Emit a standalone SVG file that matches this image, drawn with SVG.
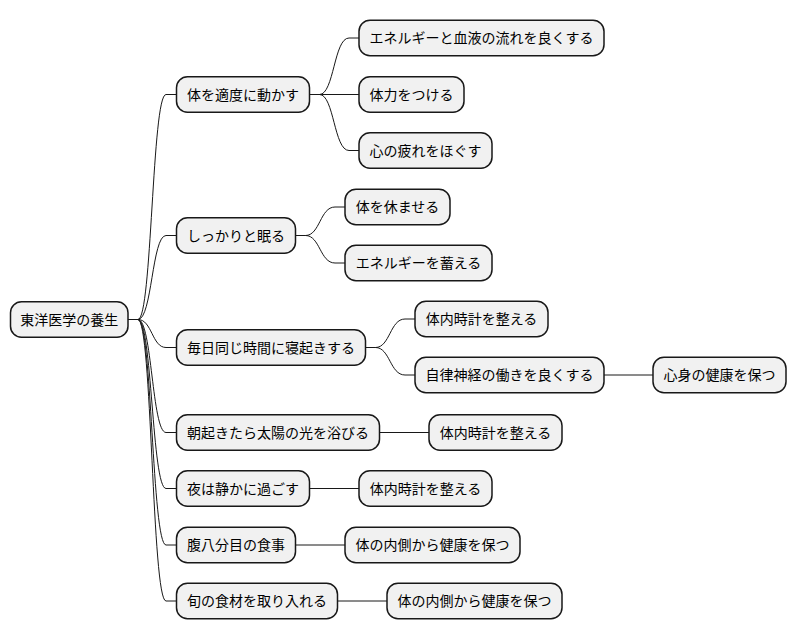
<svg xmlns="http://www.w3.org/2000/svg" width="796" height="640" viewBox="0 0 796 640">
<style>
.n rect{fill:#F1F1F1;stroke:#181818;stroke-width:1.5}
.n text{font-family:"Noto Sans CJK JP","Noto Sans",sans-serif;font-size:14px;fill:#000000;text-anchor:middle}
.c path{fill:none;stroke:#181818;stroke-width:1}
</style>
<rect width="796" height="640" fill="#FFFFFF"/>
<g class="c" id="connectors">
<path d="M128,319.5 L138,319.5 C152,319.5 152,94.5 166,94.5 L176.5,94.5"/>
<path d="M128,319.5 L138,319.5 C152,319.5 152,235.5 166,235.5 L176.5,235.5"/>
<path d="M128,319.5 L138,319.5 C152,319.5 152,347.5 166,347.5 L176.5,347.5"/>
<path d="M128,319.5 L138,319.5 C152,319.5 152,432.5 166,432.5 L176.5,432.5"/>
<path d="M128,319.5 L138,319.5 C152,319.5 152,488.5 166,488.5 L176.5,488.5"/>
<path d="M128,319.5 L138,319.5 C152,319.5 152,545 166,545 L176.5,545"/>
<path d="M128,319.5 L138,319.5 C152,319.5 152,601 166,601 L176.5,601"/>
<path d="M309.5,94.5 L319.5,94.5 C334,94.5 334,38 349,38 L359,38"/>
<path d="M309.5,94.5 L359,94.5"/>
<path d="M309.5,94.5 L319.5,94.5 C334,94.5 334,150.5 349,150.5 L359,150.5"/>
<path d="M295.5,235.5 L305.5,235.5 C320,235.5 320,207 335,207 L345,207"/>
<path d="M295.5,235.5 L305.5,235.5 C320,235.5 320,263 335,263 L345,263"/>
<path d="M365.5,347.5 L375.5,347.5 C390,347.5 390,319 405,319 L415,319"/>
<path d="M365.5,347.5 L375.5,347.5 C390,347.5 390,375 405,375 L415,375"/>
<path d="M604,375 L653,375"/>
<path d="M379.5,432.5 L429,432.5"/>
<path d="M309.5,488.5 L359,488.5"/>
<path d="M295.5,545 L345,545"/>
<path d="M337.5,601 L387,601"/>
</g>
<g class="n" id="root"><rect x="10.5" y="301.75" width="117.5" height="35.5" rx="11"/><text x="69.25" y="324.5">東洋医学の養生</text></g>
<g class="n" id="n1"><rect x="176.5" y="76.75" width="133" height="35.5" rx="11"/><text x="243" y="99.5">体を適度に動かす</text></g>
<g class="n" id="n1a"><rect x="359" y="20.25" width="245" height="35.5" rx="11"/><text x="481.5" y="43">エネルギーと血液の流れを良くする</text></g>
<g class="n" id="n1b"><rect x="359" y="76.75" width="105" height="35.5" rx="11"/><text x="411.5" y="99.5">体力をつける</text></g>
<g class="n" id="n1c"><rect x="359" y="132.75" width="133" height="35.5" rx="11"/><text x="425.5" y="155.5">心の疲れをほぐす</text></g>
<g class="n" id="n2"><rect x="176.5" y="217.75" width="119" height="35.5" rx="11"/><text x="236" y="240.5">しっかりと眠る</text></g>
<g class="n" id="n2a"><rect x="345" y="189.25" width="105" height="35.5" rx="11"/><text x="397.5" y="212">体を休ませる</text></g>
<g class="n" id="n2b"><rect x="345" y="245.25" width="147" height="35.5" rx="11"/><text x="418.5" y="268">エネルギーを蓄える</text></g>
<g class="n" id="n3"><rect x="176.5" y="329.75" width="189" height="35.5" rx="11"/><text x="271" y="352.5">毎日同じ時間に寝起きする</text></g>
<g class="n" id="n3a"><rect x="415" y="301.25" width="133" height="35.5" rx="11"/><text x="481.5" y="324">体内時計を整える</text></g>
<g class="n" id="n3b"><rect x="415" y="357.25" width="189" height="35.5" rx="11"/><text x="509.5" y="380">自律神経の働きを良くする</text></g>
<g class="n" id="n3b1"><rect x="653" y="357.25" width="133" height="35.5" rx="11"/><text x="719.5" y="380">心身の健康を保つ</text></g>
<g class="n" id="n4"><rect x="176.5" y="414.75" width="203" height="35.5" rx="11"/><text x="278" y="437.5">朝起きたら太陽の光を浴びる</text></g>
<g class="n" id="n4a"><rect x="429" y="414.75" width="133" height="35.5" rx="11"/><text x="495.5" y="437.5">体内時計を整える</text></g>
<g class="n" id="n5"><rect x="176.5" y="470.75" width="133" height="35.5" rx="11"/><text x="243" y="493.5">夜は静かに過ごす</text></g>
<g class="n" id="n5a"><rect x="359" y="470.75" width="133" height="35.5" rx="11"/><text x="425.5" y="493.5">体内時計を整える</text></g>
<g class="n" id="n6"><rect x="176.5" y="527.25" width="119" height="35.5" rx="11"/><text x="236" y="550">腹八分目の食事</text></g>
<g class="n" id="n6a"><rect x="345" y="527.25" width="175" height="35.5" rx="11"/><text x="432.5" y="550">体の内側から健康を保つ</text></g>
<g class="n" id="n7"><rect x="176.5" y="583.25" width="161" height="35.5" rx="11"/><text x="257" y="606">旬の食材を取り入れる</text></g>
<g class="n" id="n7a"><rect x="387" y="583.25" width="175" height="35.5" rx="11"/><text x="474.5" y="606">体の内側から健康を保つ</text></g>
</svg>
